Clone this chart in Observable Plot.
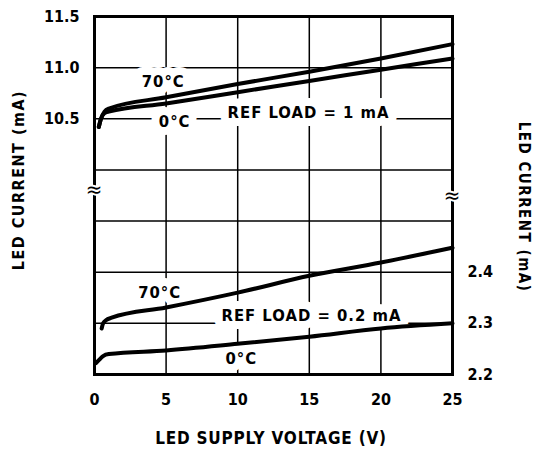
<!DOCTYPE html>
<html><head><meta charset="utf-8">
<script src="https://cdn.jsdelivr.net/npm/d3@7"></script>
<script src="https://cdn.jsdelivr.net/npm/@observablehq/plot@0.6"></script>
<style>
body{margin:0;background:#fff;}
svg{display:block;}
</style></head><body><div id="chart"></div>
<script>
// Supply voltage (V) sample points for each curve
const voltsTop70 = [0.3, 0.45, 0.7, 1, 5, 10, 15, 20, 25];
const ampsTop70  = [10.42, 10.5, 10.57, 10.6, 10.71, 10.84, 10.96, 11.09, 11.23]; // mA, REF LOAD = 1 mA, 70°C
const voltsTop0  = [0.3, 0.45, 0.7, 1, 5, 10, 15, 20, 25];
const ampsTop0   = [10.42, 10.5, 10.555, 10.57, 10.65, 10.76, 10.87, 10.98, 11.09]; // mA, REF LOAD = 1 mA, 0°C
const voltsBot70 = [0.5, 0.6, 0.8, 1.2, 5, 10, 15, 20, 25];
const ampsBot70  = [2.29, 2.3, 2.306, 2.311, 2.331, 2.36, 2.393, 2.419, 2.448]; // mA, REF LOAD = 0.2 mA, 70°C
const voltsBot0  = [0.1, 0.3, 0.6, 1, 5, 10, 15, 20, 25];
const ampsBot0   = [2.222, 2.228, 2.236, 2.24, 2.247, 2.26, 2.274, 2.29, 2.30]; // mA, REF LOAD = 0.2 mA, 0°C

const xTicks = [0, 5, 10, 15, 20, 25];
const leftTickValues = [10.5, 11.0, 11.5];
const leftTickLabels = ["10.5", "11.0", "11.5"];
const rightTickValues = [2.2, 2.3, 2.4];
const rightTickLabels = ["2.2", "2.3", "2.4"];

// annotation labels: text, voltage, current, section
const labelTexts   = ["70°C", "0°C", "REF LOAD = 1 mA", "70°C", "REF LOAD = 0.2 mA", "0°C"];
const labelVolts   = [4.8, 5.6, 14.95, 4.55, 15.15, 10.25];
const labelAmps    = [10.86, 10.475, 10.56, 2.36, 2.315, 2.231];
const labelSection = ["top", "top", "top", "bottom", "bottom", "bottom"];

// Broken axis: one shared band coordinate (7 grid rows)
const topU = v => 5 + (v - 10.5) / 0.5;
const botU = v => (v - 2.2) / 0.1;
const toU = (sec, v) => sec === "top" ? topU(v) : botU(v);

const curves = [];
const addCurve = (name, sec, vs, is) => vs.forEach((v, i) => curves.push({series: name, V: v, u: toU(sec, is[i])}));
addCurve("top70", "top", voltsTop70, ampsTop70);
addCurve("top0", "top", voltsTop0, ampsTop0);
addCurve("bot70", "bottom", voltsBot70, ampsBot70);
addCurve("bot0", "bottom", voltsBot0, ampsBot0);

const labels = labelTexts.map((t, i) => ({text: t, V: labelVolts[i], u: toU(labelSection[i], labelAmps[i])}));
const breaks = [{V: 0, u: 3.6}, {V: 25, u: 3.5}];

const FONT = "'DejaVu Sans Condensed', 'Liberation Sans Narrow', sans-serif";

const chart = Plot.plot({
  width: 535, height: 452,
  marginLeft: 94, marginRight: 83, marginTop: 16, marginBottom: 78,
  style: {fontFamily: FONT, fontWeight: "bold", fontSize: "16px", color: "black", background: "white"},
  x: {domain: [0, 25]},
  y: {domain: [0, 7]},
  marks: [
    Plot.gridX({ticks: [5, 10, 15, 20], stroke: "black", strokeOpacity: 1, strokeWidth: 1.5}),
    Plot.gridY({ticks: [1, 2, 3, 4, 5, 6], stroke: "black", strokeOpacity: 1, strokeWidth: 1.5}),
    Plot.text(labels, {x: "V", y: "u", text: "text", fill: "white", stroke: "white", strokeWidth: 16, fontSize: 16.5, fontWeight: "bold", fontFamily: FONT}),
    Plot.line(curves, {x: "V", y: "u", z: "series", stroke: "black", strokeWidth: 4, curve: "monotone-x"}),
    Plot.text(labels, {x: "V", y: "u", text: "text", fill: "black", fontSize: 16.5, fontWeight: "bold", fontFamily: FONT}),
    Plot.frame({stroke: "black", strokeWidth: 3}),
    Plot.text(breaks, {x: "V", y: "u", text: () => "≈", fill: "black", stroke: "white", strokeWidth: 4, fontSize: 22, fontWeight: "normal", fontFamily: FONT}),
    Plot.axisX({ticks: xTicks, tickSize: 0, tickPadding: 19, label: null, fontSize: 16}),
    Plot.axisY({anchor: "left", ticks: leftTickValues.map(topU), tickFormat: (d, i) => leftTickLabels[i], tickSize: 0, tickPadding: 15, label: null}),
    Plot.axisY({anchor: "right", ticks: rightTickValues.map(botU), tickFormat: (d, i) => rightTickLabels[i], tickSize: 0, tickPadding: 15, label: null})
  ]
});

const svg = d3.select(chart);
svg.selectAll("g[aria-label='text'] text").attr("letter-spacing", "1px");
svg.append("text").attr("x", 271).attr("y", 444).attr("text-anchor", "middle")
  .attr("font-size", 17).attr("font-weight", "bold").attr("letter-spacing", "0.8px").attr("fill", "black")
  .text("LED SUPPLY VOLTAGE (V)");
svg.append("text").attr("transform", "translate(24,180) rotate(-90)").attr("text-anchor", "middle")
  .attr("font-size", 16).attr("font-weight", "bold").attr("letter-spacing", "1.5px").attr("fill", "black")
  .text("LED CURRENT (mA)");
svg.append("text").attr("transform", "translate(519,207) rotate(90)").attr("text-anchor", "middle")
  .attr("font-size", 15).attr("font-weight", "bold").attr("letter-spacing", "1.5px").attr("fill", "black")
  .text("LED CURRENT (mA)");

document.getElementById("chart").appendChild(chart);
</script></body></html>
